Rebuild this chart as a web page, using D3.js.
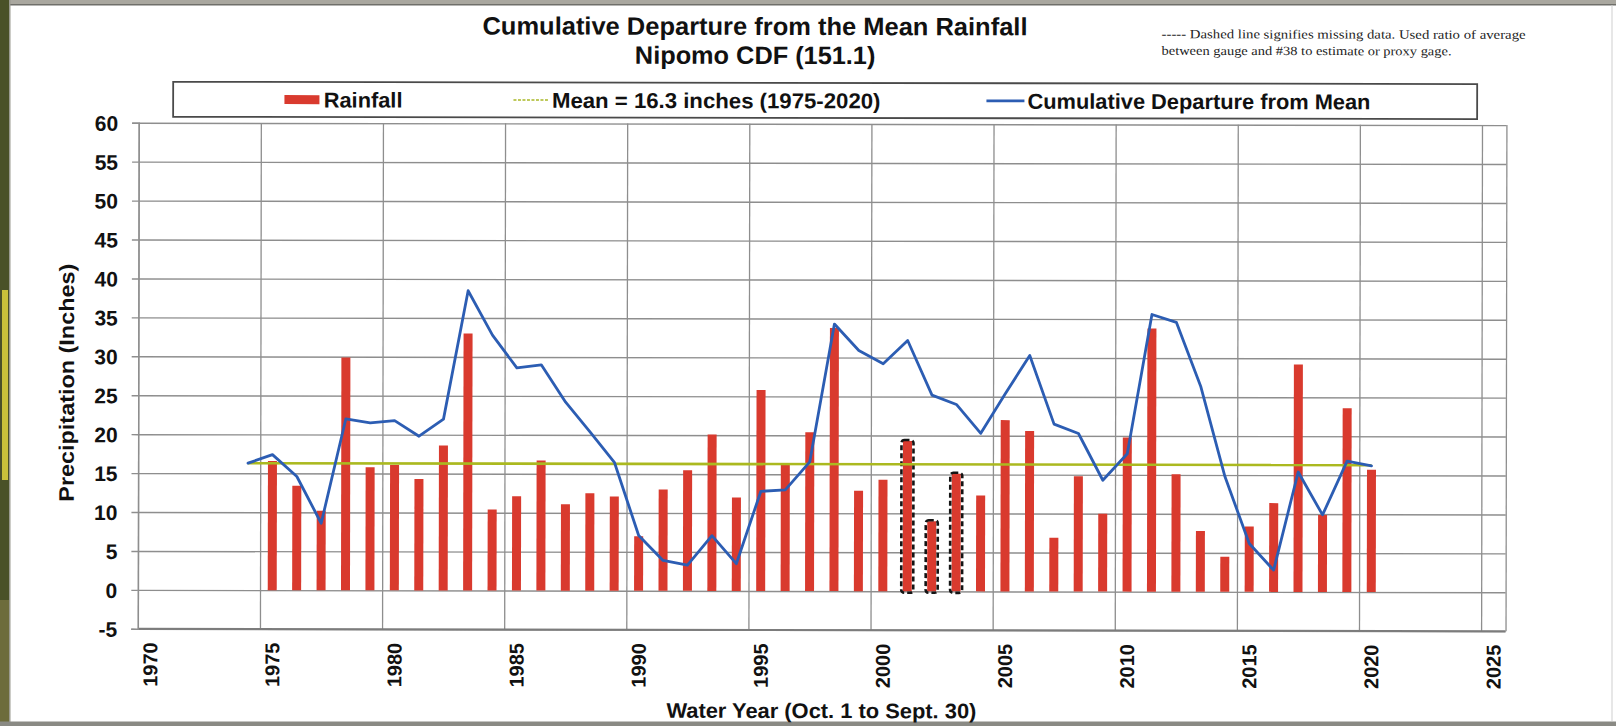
<!DOCTYPE html>
<html><head><meta charset="utf-8">
<script src="https://cdn.jsdelivr.net/npm/d3@7"></script>
<style>html,body{margin:0;padding:0;background:#fff;} svg{display:block;}</style>
</head><body>
<svg id="chart" width="1616" height="726"></svg>
<script>
// ---------------- data ----------------
const years = [1975,1976,1977,1978,1979,1980,1981,1982,1983,1984,1985,1986,1987,1988,1989,1990,1991,1992,1993,1994,1995,1996,1997,1998,1999,2000,2001,2002,2003,2004,2005,2006,2007,2008,2009,2010,2011,2012,2013,2014,2015,2016,2017,2018,2019,2020];
const rainfall = [16.6,13.4,10.2,29.9,15.8,16.1,14.3,18.6,33.0,10.4,12.1,16.7,11.1,12.5,12.1,7.0,13.0,15.5,20.1,12.0,25.8,16.4,20.4,33.8,12.9,14.3,19.3,9.0,15.1,12.3,22.0,20.6,6.9,14.8,10.0,19.8,33.8,15.1,7.8,4.5,8.4,11.4,29.2,9.9,23.6,15.7];
const estimatedYears = [2001,2002,2003];
const cumYears = [1974,1975,1976,1977,1978,1979,1980,1981,1982,1983,1984,1985,1986,1987,1988,1989,1990,1991,1992,1993,1994,1995,1996,1997,1998,1999,2000,2001,2002,2003,2004,2005,2006,2007,2008,2009,2010,2011,2012,2013,2014,2015,2016,2017,2018,2019,2020];
const cumDeparture = [16.3,17.4,14.6,8.6,22.0,21.5,21.8,19.8,22.0,38.5,32.8,28.6,29.0,24.2,20.4,16.5,7.1,3.9,3.3,7.1,3.5,12.8,13.0,16.6,34.3,30.9,29.2,32.2,25.2,24.0,20.3,25.4,30.3,21.5,20.3,14.3,17.7,35.6,34.6,26.4,14.8,6.2,2.8,15.4,9.9,16.8,16.2];
const meanValue = 16.3;
const meanYears = [1974,2020];
const yTicks = [-5,0,5,10,15,20,25,30,35,40,45,50,55,60];
const xTicks = [1970,1975,1980,1985,1990,1995,2000,2005,2010,2015,2020,2025];
const titleLines = ["Cumulative Departure from the Mean Rainfall","Nipomo CDF (151.1)"];
const noteLines = ["----- Dashed line signifies missing data.  Used  ratio of average","between gauge and #38 to estimate or proxy gage."];
const legendLabels = ["Rainfall","Mean = 16.3 inches (1975-2020)","Cumulative Departure from Mean"];
const yTitle = "Precipitation (Inches)";
const xTitle = "Water Year (Oct. 1 to Sept. 30)";

// ---------------- setup ----------------
const svg = d3.select("#chart");
const SANS = "'Liberation Sans', Arial, Helvetica, sans-serif";
const SERIF = "'Liberation Serif', 'Times New Roman', serif";

// scan frame
svg.append("rect").attr("x",0).attr("y",0).attr("width",1616).attr("height",726).attr("fill","#ffffff");
svg.append("rect").attr("x",0).attr("y",0).attr("width",1616).attr("height",5).attr("fill","#a9a79f");
svg.append("rect").attr("x",0).attr("y",4).attr("width",1616).attr("height",1.5).attr("fill","#6f6f6a");
svg.append("rect").attr("x",0).attr("y",0).attr("width",9).attr("height",726).attr("fill","#4a5128");
svg.append("rect").attr("x",2).attr("y",290).attr("width",6).attr("height",190).attr("fill","#c9c23a");
svg.append("rect").attr("x",0).attr("y",600).attr("width",9).attr("height",126).attr("fill","#6d6c3c");
svg.append("rect").attr("x",9).attr("y",0).attr("width",1.5).attr("height",726).attr("fill","#9a9a90");
svg.append("rect").attr("x",0).attr("y",721.5).attr("width",1616).attr("height",4.5).attr("fill","#8a8a84");
svg.append("rect").attr("x",1611.5).attr("y",5).attr("width",1).attr("height",716).attr("fill","#d0d0d0");

const g = svg.append("g").attr("transform","rotate(0.1 808 363)");

const x = d3.scaleLinear().domain([1970,2026]).range([138.3,1506]);
const y = d3.scaleLinear().domain([-5,60]).range([630,123.9]);
const plotW = x.range()[1]-x.range()[0];
const plotH = y.range()[0]-y.range()[1];

// gridlines
const gridY = g.append("g").attr("transform",`translate(${x.range()[0]},0)`)
  .call(d3.axisLeft(y).tickValues(yTicks).tickSize(-plotW).tickFormat(""));
gridY.select(".domain").remove();
gridY.selectAll("line").attr("stroke","#8e8e8e").attr("stroke-width",1.4);

const gridX = g.append("g")
  .call(d3.axisBottom(x).tickValues(xTicks.concat([2026])).tickSize(plotH).tickFormat(""))
  .attr("transform",`translate(0,${y.range()[1]})`);
gridX.select(".domain").remove();
gridX.selectAll("line").attr("stroke","#8e8e8e").attr("stroke-width",1.3);

// bottom border line
g.append("line").attr("x1",x.range()[0]).attr("x2",x.range()[1]).attr("y1",y(-5)).attr("y2",y(-5))
  .attr("stroke","#7c7c7c").attr("stroke-width",2);

// y axis (tick marks + labels)
const yAxis = g.append("g").attr("transform",`translate(${x.range()[0]},0)`)
  .call(d3.axisLeft(y).tickValues(yTicks).tickSize(6.6).tickPadding(14).tickFormat(d=>String(d)));
yAxis.select(".domain").attr("stroke","#8e8e8e").attr("stroke-width",1.4);
yAxis.selectAll(".tick line").attr("stroke","#8e8e8e").attr("stroke-width",1.4);
yAxis.selectAll(".tick text").attr("font-family",SANS).attr("font-weight","bold")
  .attr("font-size",21).attr("fill","#111").attr("dy","0.36em");

// x axis labels (rotated)
const xAxis = g.append("g").attr("transform",`translate(0,${y.range()[0]})`)
  .call(d3.axisBottom(x).tickValues(xTicks).tickSize(0).tickFormat(d=>String(d)));
xAxis.select(".domain").remove();
xAxis.selectAll(".tick text")
  .attr("font-family",SANS).attr("font-weight","bold").attr("font-size",20).attr("fill","#111")
  .attr("text-anchor","end").attr("dy",null).attr("y",null)
  .attr("transform","translate(18.9,13.5) rotate(-90)");

// bars
const bars = g.append("g");
const barW = 9;
const barData = years.map((yr,i)=>({yr,v:rainfall[i]}));
bars.selectAll("rect.bar").data(barData).join("rect")
  .attr("class","bar")
  .attr("x",d=>x(d.yr+0.5)-barW/2).attr("width",barW)
  .attr("y",d=>y(d.v)).attr("height",d=>y(0)-y(d.v))
  .attr("fill","#d93a2e");
bars.selectAll("rect.est").data(barData.filter(d=>estimatedYears.includes(d.yr))).join("rect")
  .attr("class","est")
  .attr("x",d=>x(d.yr+0.5)-6).attr("width",12)
  .attr("y",d=>y(d.v)-1).attr("height",d=>y(0)-y(d.v)+2.5)
  .attr("rx",3).attr("fill","none").attr("stroke","#141414").attr("stroke-width",2.6)
  .attr("stroke-dasharray","5 3");

// mean line
g.append("line")
  .attr("x1",x(meanYears[0]+0.5)).attr("x2",x(meanYears[1]+0.5))
  .attr("y1",y(meanValue)).attr("y2",y(meanValue))
  .attr("stroke","#abb91f").attr("stroke-width",2.6);

// cumulative departure line
const line = d3.line().x((d,i)=>x(cumYears[i]+0.5)).y(d=>y(d));
g.append("path").datum(cumDeparture).attr("d",line)
  .attr("fill","none").attr("stroke","#2c5db3").attr("stroke-width",2.8)
  .attr("stroke-linejoin","round").attr("stroke-linecap","round");

// titles
const titleG = g.append("g").attr("font-family",SANS).attr("font-weight","bold").attr("fill","#111");
titleG.append("text").attr("x",754.4).attr("y",35).attr("text-anchor","middle").attr("font-size",25)
  .attr("textLength",545).attr("lengthAdjust","spacingAndGlyphs").text(titleLines[0]);
titleG.append("text").attr("x",754.6).attr("y",64).attr("text-anchor","middle").attr("font-size",25)
  .attr("textLength",240.5).attr("lengthAdjust","spacingAndGlyphs").text(titleLines[1]);

// note
const noteG = g.append("g").attr("font-family",SERIF).attr("fill","#222").attr("font-size",12.5);
noteG.append("text").attr("x",1161).attr("y",37.6).attr("textLength",364).attr("lengthAdjust","spacingAndGlyphs").text(noteLines[0]);
noteG.append("text").attr("x",1161).attr("y",54.2).attr("textLength",290).attr("lengthAdjust","spacingAndGlyphs").text(noteLines[1]);

// legend
const lg = g.append("g");
lg.append("rect").attr("x",172.7).attr("y",82.9).attr("width",1476.7-172.7).attr("height",35)
  .attr("fill","#fff").attr("stroke","#4a4a4a").attr("stroke-width",1.8);
lg.append("rect").attr("x",284).attr("y",96).attr("width",35).attr("height",9).attr("fill","#d93a2e");
lg.append("line").attr("x1",513).attr("x2",549).attr("y1",100.5).attr("y2",100.5)
  .attr("stroke","#a9b826").attr("stroke-width",1.6).attr("stroke-dasharray","3 1.5");
lg.append("line").attr("x1",986).attr("x2",1024).attr("y1",100.5).attr("y2",100.5)
  .attr("stroke","#2c5db3").attr("stroke-width",2.8);
const legendPos = [[323.3,78.7],[551.5,328.5],[1027,343]];
lg.selectAll("text.lt").data(legendLabels).join("text").attr("class","lt")
  .attr("x",(d,i)=>legendPos[i][0]).attr("y",108.3)
  .attr("textLength",(d,i)=>legendPos[i][1]).attr("lengthAdjust","spacingAndGlyphs")
  .attr("font-family",SANS).attr("font-weight","bold").attr("font-size",21.5).attr("fill","#111")
  .text(d=>d);

// axis titles
g.append("text").attr("transform","translate(74,384) rotate(-90)").attr("text-anchor","middle")
  .attr("font-family",SANS).attr("font-weight","bold").attr("font-size",21).attr("fill","#111")
  .attr("textLength",238).attr("lengthAdjust","spacingAndGlyphs").text(yTitle);
g.append("text").attr("x",822).attr("y",718).attr("text-anchor","middle")
  .attr("font-family",SANS).attr("font-weight","bold").attr("font-size",21).attr("fill","#111")
  .attr("textLength",310).attr("lengthAdjust","spacingAndGlyphs").text(xTitle);
</script>
</body></html>
